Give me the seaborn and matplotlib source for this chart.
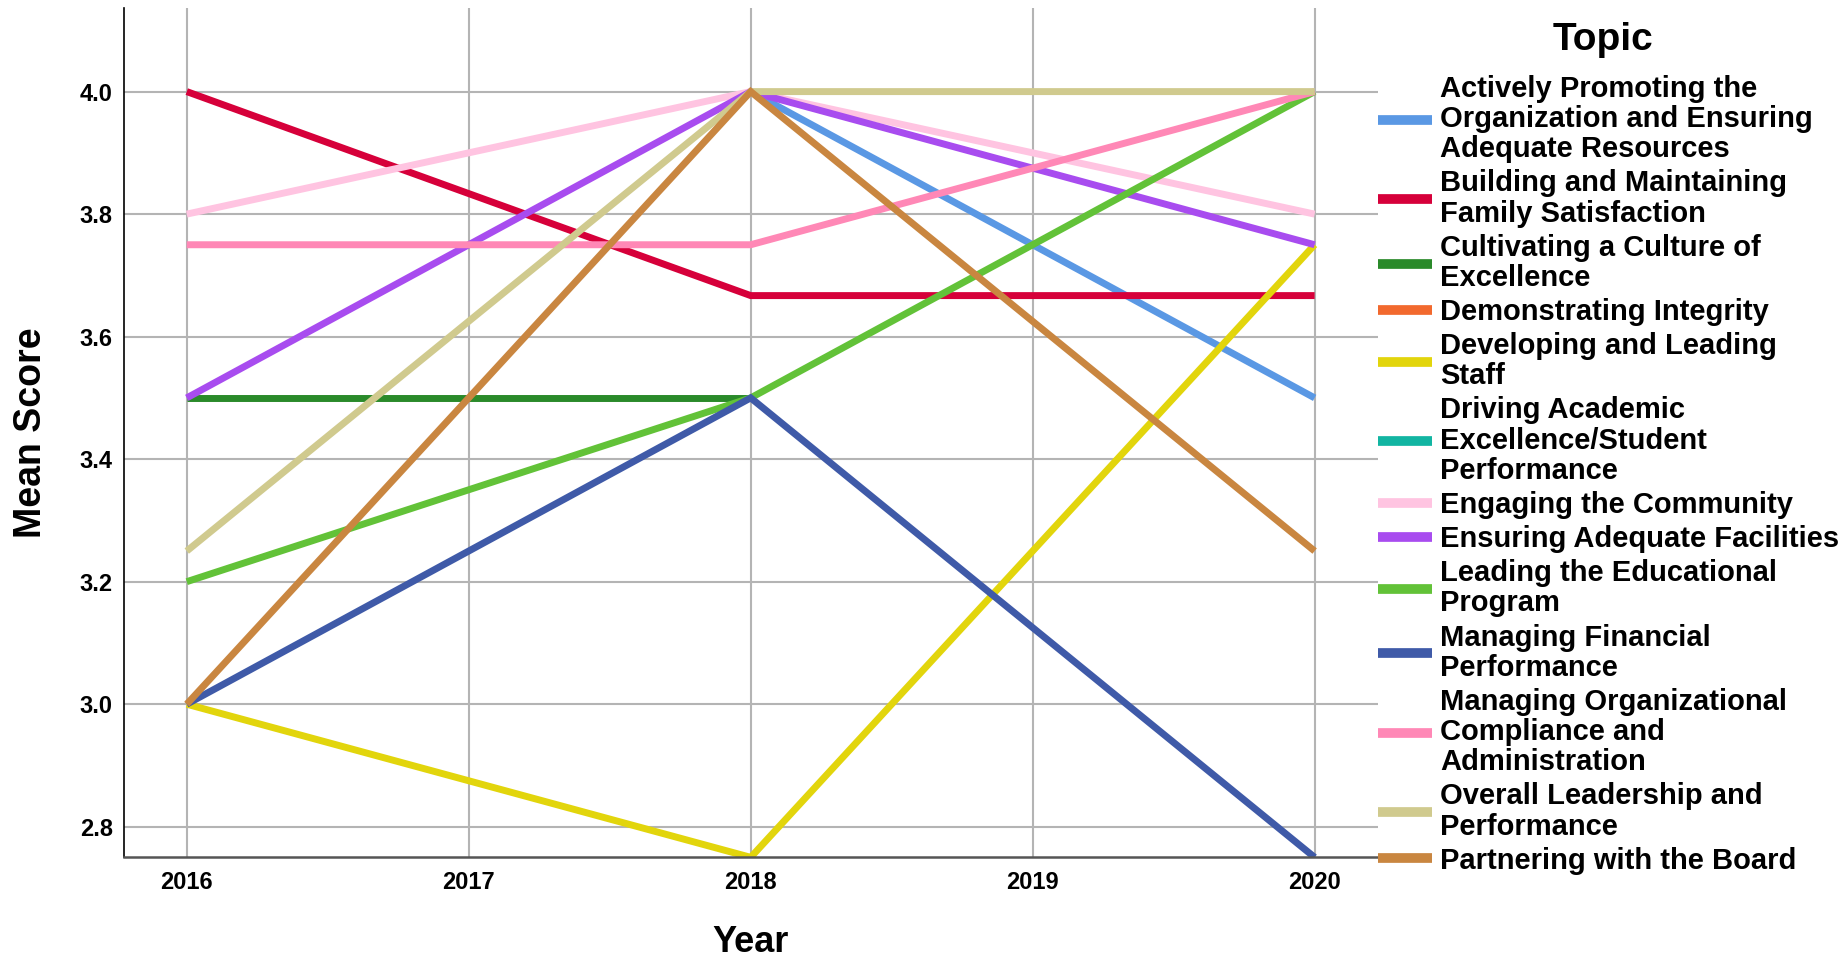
import matplotlib
matplotlib.use("Agg")
import matplotlib.pyplot as plt
from matplotlib.lines import Line2D
import pandas as pd
import seaborn as sns

# Survey years and mean scores per topic (None = no responses that year)
years = [2016, 2018, 2020]

actively_promoting = [None, 4.0, 3.5]
building_family = [4.0, 3.667, 3.667]
cultivating_culture = [3.5, 3.5, None]
demonstrating_integrity = [None, None, None]
developing_staff = [3.0, 2.75, 3.75]
driving_academic = [None, None, None]
engaging_community = [3.8, 4.0, 3.8]
ensuring_facilities = [3.5, 4.0, 3.75]
leading_program = [3.2, 3.5, 4.0]
managing_financial = [3.0, 3.5, 2.75]
managing_compliance = [3.75, 3.75, 4.0]
overall_leadership = [3.25, 4.0, 4.0]
partnering_board = [3.0, 4.0, 3.25]

topics = [
    "Actively Promoting the Organization and Ensuring Adequate Resources",
    "Building and Maintaining Family Satisfaction",
    "Cultivating a Culture of Excellence",
    "Demonstrating Integrity",
    "Developing and Leading Staff",
    "Driving Academic Excellence/Student Performance",
    "Engaging the Community",
    "Ensuring Adequate Facilities",
    "Leading the Educational Program",
    "Managing Financial Performance",
    "Managing Organizational Compliance and Administration",
    "Overall Leadership and Performance",
    "Partnering with the Board",
]

series = [
    actively_promoting, building_family, cultivating_culture,
    demonstrating_integrity, developing_staff, driving_academic,
    engaging_community, ensuring_facilities, leading_program,
    managing_financial, managing_compliance, overall_leadership,
    partnering_board,
]

legend_labels = [
    "Actively Promoting the\nOrganization and Ensuring\nAdequate Resources",
    "Building and Maintaining\nFamily Satisfaction",
    "Cultivating a Culture of\nExcellence",
    "Demonstrating Integrity",
    "Developing and Leading\nStaff",
    "Driving Academic\nExcellence/Student\nPerformance",
    "Engaging the Community",
    "Ensuring Adequate Facilities",
    "Leading the Educational\nProgram",
    "Managing Financial\nPerformance",
    "Managing Organizational\nCompliance and\nAdministration",
    "Overall Leadership and\nPerformance",
    "Partnering with the Board",
]

colors = [
    "#5a98e4", "#d6003a", "#2a8a2a", "#f2692e", "#e2d50c", "#12b5a2",
    "#ffc4e1", "#a84cef", "#62c238", "#3f5aa8", "#ff88b6", "#d0ca8e",
    "#c98640",
]
palette = dict(zip(topics, colors))

rows = []
for topic, vals in zip(topics, series):
    for yr, v in zip(years, vals):
        if v is not None:
            rows.append({"Year": yr, "Mean Score": v, "Topic": topic})
df = pd.DataFrame(rows)

sns.set_theme(style="white")
plt.rcParams["font.family"] = ["Liberation Sans", "DejaVu Sans"]
plt.rcParams["font.weight"] = "bold"
for key in ("text.color", "axes.labelcolor", "xtick.color", "ytick.color"):
    plt.rcParams[key] = "black"

fig = plt.figure(figsize=(18.49, 9.59), dpi=100)
ax = fig.add_axes([0.067, 0.106, 0.678, 0.886])

sns.lineplot(
    data=df, x="Year", y="Mean Score", hue="Topic", hue_order=topics,
    palette=palette, linewidth=5, legend=False, ax=ax,
    solid_joinstyle="miter", solid_capstyle="butt", estimator=None,
)

yticks = [2.8, 3.0, 3.2, 3.4, 3.6, 3.8, 4.0]
ax.set_xlim(2015.777, 2020.223)
ax.set_ylim(2.75, 4.137)
ax.set_xticks([2016, 2017, 2018, 2019, 2020])
ax.set_yticks(yticks)
ax.set_yticklabels([f"{v:.1f}" for v in yticks])

ax.set_axisbelow(True)
ax.grid(True, color="#b4b4b4", linewidth=1.5)
ax.tick_params(axis="both", length=0, labelsize=17, colors="black")
ax.tick_params(axis="x", pad=10)
ax.tick_params(axis="y", pad=8)
for lbl in ax.get_xticklabels() + ax.get_yticklabels():
    lbl.set_fontweight("bold")

for side in ("top", "right"):
    ax.spines[side].set_visible(False)
ax.spines["left"].set_color("black")
ax.spines["left"].set_linewidth(1.2)
ax.spines["bottom"].set_color("#555555")
ax.spines["bottom"].set_linewidth(1.8)

ax.set_xlabel("Year", fontsize=26, fontweight="bold", labelpad=22)
ax.set_ylabel("Mean Score", fontsize=27, fontweight="bold", labelpad=22)

# Legend title drawn separately so its gap to the entries can be set freely
fig.text(0.867, 0.958, "Topic", fontsize=28, fontweight="bold",
         ha="center", va="center", color="black")

handles = [Line2D([], [], color=palette[t], linewidth=7, solid_capstyle="butt")
           for t in topics]
leg = fig.legend(
    handles, legend_labels, loc="upper left",
    bbox_to_anchor=(0.7453, 0.922), bbox_transform=fig.transFigure,
    borderaxespad=0, borderpad=0,
    frameon=False, fontsize=21, handlelength=1.85, handletextpad=0.28,
    labelspacing=0.21,
)
for txt in leg.get_texts():
    txt.set_linespacing(1.1)
    txt.set_fontweight("bold")
    txt.set_color("black")

fig.savefig("out.png", dpi=100)
